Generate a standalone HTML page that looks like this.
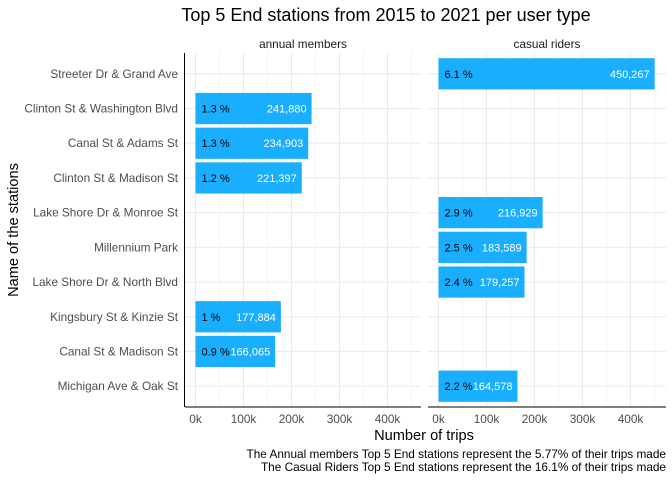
<!DOCTYPE html>
<html><head><meta charset="utf-8"><style>
body{margin:0;background:#fff;font-family:"Liberation Sans",sans-serif;}
svg text{font-family:"Liberation Sans",sans-serif;}
</style></head><body>
<svg id="c" width="672" height="480" xmlns="http://www.w3.org/2000/svg">
<text x="386" y="21" font-size="18" text-anchor="middle" fill="#000">Top 5 End stations from 2015 to 2021 per user type</text>
<text x="303" y="48" font-size="11.8" text-anchor="middle" fill="#1a1a1a">annual members</text>
<text x="547" y="48" font-size="11.8" text-anchor="middle" fill="#1a1a1a">casual riders</text>
<text x="424" y="440" font-size="14.6" text-anchor="middle" fill="#000">Number of trips</text>
<text transform="translate(18,230) rotate(-90)" font-size="14.6" text-anchor="middle" fill="#000">Name of the stations</text>
<text x="666" y="458" font-size="11.8" text-anchor="end" fill="#000">The Annual members Top 5 End stations represent the 5.77% of their trips made</text>
<text x="666" y="471" font-size="11.8" text-anchor="end" fill="#000">The Casual Riders Top 5 End stations represent the 16.1% of their trips made</text>
<g id="plot"></g>
</svg>
<script>
const stations=["Streeter Dr & Grand Ave","Clinton St & Washington Blvd","Canal St & Adams St","Clinton St & Madison St","Lake Shore Dr & Monroe St","Millennium Park","Lake Shore Dr & North Blvd","Kingsbury St & Kinzie St","Canal St & Madison St","Michigan Ave & Oak St"];
const annualValues=[null,241880,234903,221397,null,null,null,177884,166065,null];
const annualPct=[null,"1.3 %","1.3 %","1.2 %",null,null,null,"1 %","0.9 %",null];
const casualValues=[450267,null,null,null,216929,183589,179257,null,null,164578];
const casualPct=["6.1 %",null,null,null,"2.9 %","2.5 %","2.4 %",null,null,"2.2 %"];
const xTicks=[0,100000,200000,300000,400000];
const xTickLabels=["0k","100k","200k","300k","400k"];

const NS="http://www.w3.org/2000/svg";
const g=document.getElementById('plot');
const plotTop=53,plotBottom=407,unit=(plotBottom-plotTop)/(stations.length-1+1.2);
function yPos(i){return plotTop+(0.6+i)*unit;}
const panels=[{x0:195.5,left:185,right:421,vals:annualValues,pct:annualPct,name:'annual'},
              {x0:438.5,left:428,right:666,vals:casualValues,pct:casualPct,name:'casual'}];
const k=48/100000;
function el(t,a,parent){const e=document.createElementNS(NS,t);for(const n in a)e.setAttribute(n,a[n]);(parent||g).appendChild(e);return e;}
panels.forEach(p=>{
  const xs=v=>p.x0+v*k;
  for(let v=0;xs(v)<=p.right;v+=50000){
    const l=el('line',{x1:xs(v),x2:xs(v),y1:plotTop,y2:plotBottom,stroke:'#ebebeb','stroke-width':v%100000===0?1.1:0.6});
    
    
  }
  stations.forEach((s,i)=>{
    const l=el('line',{x1:p.left,x2:p.right,y1:yPos(i),y2:yPos(i),stroke:'#ebebeb','stroke-width':1.1});
    
    
  });
  stations.forEach((s,i)=>{
    const v=p.vals[i]; if(v==null) return;
    const bh=unit*0.9;
    const r=el('rect',{x:xs(0),y:yPos(i)-bh/2,width:xs(v)-xs(0),height:bh,fill:'#1aaeff'});
    
    
    const t1=el('text',{x:xs(0)+6,y:yPos(i)+4,'font-size':11,fill:'#000'});
    t1.textContent=p.pct[i];
    
    
    const t2=el('text',{x:xs(v)-5,y:yPos(i)+4,'font-size':11,fill:'#fff','text-anchor':'end'});
    t2.textContent=v.toLocaleString('en-US');
    
    
  });
  const ax=el('line',{x1:p.left,x2:p.right,y1:plotBottom,y2:plotBottom,stroke:'#000','stroke-width':1});
  
  
  xTicks.forEach((v,j)=>{
    const t=el('text',{x:xs(v),y:plotBottom+16,'font-size':11.8,fill:'#4d4d4d','text-anchor':'middle'});
    t.textContent=xTickLabels[j];
    
    
  });
});
const ya=el('line',{x1:184.5,x2:184.5,y1:plotTop,y2:plotBottom,stroke:'#000','stroke-width':1});


stations.forEach((s,i)=>{
  const t=el('text',{x:178,y:yPos(i)+4,'font-size':11.8,fill:'#4d4d4d','text-anchor':'end'});
  t.textContent=s;
  
  
});
</script>
</body></html>
